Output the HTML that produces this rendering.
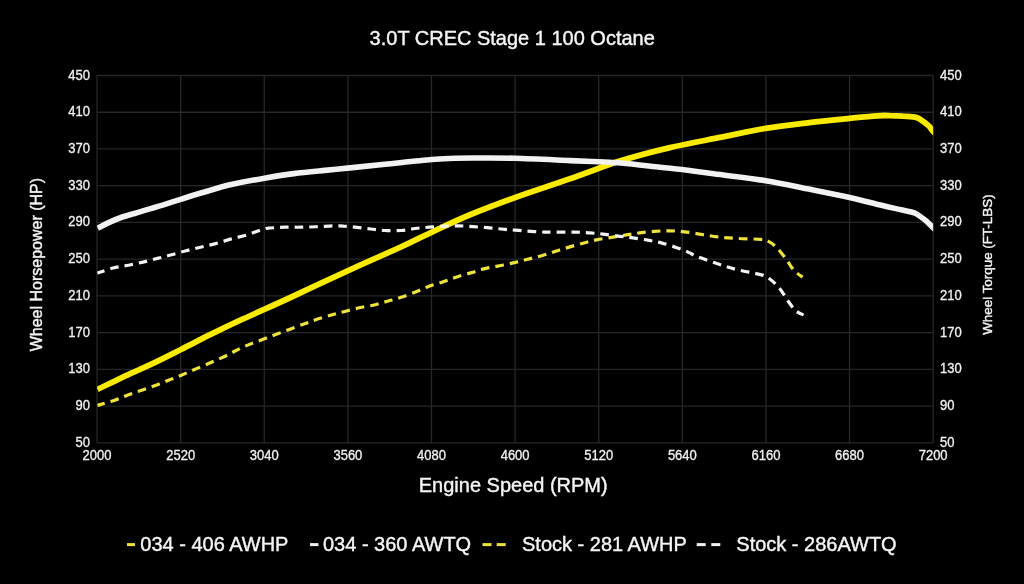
<!DOCTYPE html>
<html><head><meta charset="utf-8"><style>
html,body{margin:0;padding:0;background:#000;}
body{width:1024px;height:584px;overflow:hidden;}
svg{display:block;font-family:"Liberation Sans",sans-serif;will-change:transform;}
</style></head><body>
<svg width="1024" height="584" viewBox="0 0 1024 584">
<rect width="1024" height="584" fill="#000"/>
<g stroke="#272727" stroke-width="1.3" fill="none">
<line x1="97.05" y1="75.5" x2="97.05" y2="442.8"/><line x1="97.05" y1="75.50" x2="933.15" y2="75.50"/><line x1="180.66" y1="75.5" x2="180.66" y2="442.8"/><line x1="97.05" y1="112.23" x2="933.15" y2="112.23"/><line x1="264.27" y1="75.5" x2="264.27" y2="442.8"/><line x1="97.05" y1="148.96" x2="933.15" y2="148.96"/><line x1="347.88" y1="75.5" x2="347.88" y2="442.8"/><line x1="97.05" y1="185.69" x2="933.15" y2="185.69"/><line x1="431.49" y1="75.5" x2="431.49" y2="442.8"/><line x1="97.05" y1="222.42" x2="933.15" y2="222.42"/><line x1="515.10" y1="75.5" x2="515.10" y2="442.8"/><line x1="97.05" y1="259.15" x2="933.15" y2="259.15"/><line x1="598.71" y1="75.5" x2="598.71" y2="442.8"/><line x1="97.05" y1="295.88" x2="933.15" y2="295.88"/><line x1="682.32" y1="75.5" x2="682.32" y2="442.8"/><line x1="97.05" y1="332.61" x2="933.15" y2="332.61"/><line x1="765.93" y1="75.5" x2="765.93" y2="442.8"/><line x1="97.05" y1="369.34" x2="933.15" y2="369.34"/><line x1="849.54" y1="75.5" x2="849.54" y2="442.8"/><line x1="97.05" y1="406.07" x2="933.15" y2="406.07"/><line x1="933.15" y1="75.5" x2="933.15" y2="442.8"/><line x1="97.05" y1="442.80" x2="933.15" y2="442.80"/>
</g>
<g fill="#f0f0f0" stroke="#f0f0f0" stroke-width="0.3" font-size="13">
<text transform="translate(90,79.50) scale(1,1.06)" text-anchor="end">450</text><text transform="translate(940,79.50) scale(1,1.06)" text-anchor="start">450</text><text transform="translate(90,116.23) scale(1,1.06)" text-anchor="end">410</text><text transform="translate(940,116.23) scale(1,1.06)" text-anchor="start">410</text><text transform="translate(90,152.96) scale(1,1.06)" text-anchor="end">370</text><text transform="translate(940,152.96) scale(1,1.06)" text-anchor="start">370</text><text transform="translate(90,189.69) scale(1,1.06)" text-anchor="end">330</text><text transform="translate(940,189.69) scale(1,1.06)" text-anchor="start">330</text><text transform="translate(90,226.42) scale(1,1.06)" text-anchor="end">290</text><text transform="translate(940,226.42) scale(1,1.06)" text-anchor="start">290</text><text transform="translate(90,263.15) scale(1,1.06)" text-anchor="end">250</text><text transform="translate(940,263.15) scale(1,1.06)" text-anchor="start">250</text><text transform="translate(90,299.88) scale(1,1.06)" text-anchor="end">210</text><text transform="translate(940,299.88) scale(1,1.06)" text-anchor="start">210</text><text transform="translate(90,336.61) scale(1,1.06)" text-anchor="end">170</text><text transform="translate(940,336.61) scale(1,1.06)" text-anchor="start">170</text><text transform="translate(90,373.34) scale(1,1.06)" text-anchor="end">130</text><text transform="translate(940,373.34) scale(1,1.06)" text-anchor="start">130</text><text transform="translate(90,410.07) scale(1,1.06)" text-anchor="end">90</text><text transform="translate(940,410.07) scale(1,1.06)" text-anchor="start">90</text><text transform="translate(90,446.80) scale(1,1.06)" text-anchor="end">50</text><text transform="translate(940,446.80) scale(1,1.06)" text-anchor="start">50</text>
<text transform="translate(97.05,459.6) scale(1,1.06)" text-anchor="middle">2000</text><text transform="translate(180.66,459.6) scale(1,1.06)" text-anchor="middle">2520</text><text transform="translate(264.27,459.6) scale(1,1.06)" text-anchor="middle">3040</text><text transform="translate(347.88,459.6) scale(1,1.06)" text-anchor="middle">3560</text><text transform="translate(431.49,459.6) scale(1,1.06)" text-anchor="middle">4080</text><text transform="translate(515.10,459.6) scale(1,1.06)" text-anchor="middle">4600</text><text transform="translate(598.71,459.6) scale(1,1.06)" text-anchor="middle">5120</text><text transform="translate(682.32,459.6) scale(1,1.06)" text-anchor="middle">5640</text><text transform="translate(765.93,459.6) scale(1,1.06)" text-anchor="middle">6160</text><text transform="translate(849.54,459.6) scale(1,1.06)" text-anchor="middle">6680</text><text transform="translate(933.15,459.6) scale(1,1.06)" text-anchor="middle">7200</text>
</g>
<g fill="#f5f5f5" stroke="#f5f5f5" stroke-width="0.4">
<text transform="translate(512.2,45) scale(1,1.035)" font-size="20" text-anchor="middle">3.0T CREC Stage 1 100 Octane</text>
<text transform="translate(513.2,492.3) scale(1,1.035)" font-size="20" text-anchor="middle">Engine Speed (RPM)</text>
<text transform="translate(41.6,264.6) rotate(-90) scale(1,1.0)" font-size="16" text-anchor="middle">Wheel Horsepower (HP)</text>
<text transform="translate(992.4,264.6) rotate(-90) scale(1,1.0)" font-size="13.4" text-anchor="middle">Wheel Torque (FT-LBS)</text>
</g>
<defs><clipPath id="pc"><rect x="97.05" y="65.5" width="836.1" height="377.3"/></clipPath></defs>
<g clip-path="url(#pc)" fill="none" stroke-linejoin="round">
<path d="M97.5,389.4 C101.7,387.4 113.7,381.4 122.4,377.3 C131.1,373.2 140.0,369.5 149.8,364.9 C159.6,360.3 170.8,354.6 181.0,349.5 C191.2,344.4 201.0,339.2 211.2,334.2 C221.5,329.1 229.5,325.2 242.5,319.2 C255.5,313.2 271.9,306.1 289.4,298.0 C306.9,289.9 329.3,279.2 347.7,270.8 C366.1,262.4 386.1,253.8 400.0,247.4 C413.9,241.0 419.7,237.7 431.4,232.3 C443.1,226.9 456.0,220.6 470.0,214.8 C484.0,209.0 498.5,203.5 515.2,197.5 C531.9,191.5 552.3,185.0 570.0,178.8 C587.7,172.7 604.7,165.8 621.4,160.6 C638.1,155.4 653.3,151.5 670.0,147.6 C686.7,143.7 705.5,140.4 721.4,137.2 C737.3,134.0 750.6,130.9 765.6,128.4 C780.6,125.9 797.1,124.1 811.1,122.4 C825.1,120.7 838.7,119.4 849.7,118.3 C860.7,117.2 870.3,116.2 877.0,115.8 C883.7,115.3 885.7,115.5 890.0,115.6 C894.3,115.6 898.7,115.8 902.8,116.1 C906.9,116.3 911.9,116.6 914.8,117.1 C917.7,117.6 917.7,117.8 920.0,119.2 C922.3,120.6 926.3,123.7 928.5,125.7 C930.7,127.7 931.1,129.2 933.0,131.3 C934.9,133.4 938.8,136.9 940.0,138.0" stroke="#f8ea00" stroke-width="5.8"/>
<path d="M97.7,228.2 C99.5,227.3 104.6,224.5 108.7,222.6 C112.8,220.7 117.8,218.6 122.4,217.0 C127.0,215.4 131.5,214.3 136.1,213.0 C140.7,211.7 145.2,210.3 149.8,208.9 C154.4,207.5 158.4,206.4 163.5,204.8 C168.6,203.2 174.5,201.2 180.6,199.3 C186.7,197.4 191.6,195.8 200.0,193.3 C208.4,190.9 220.5,187.1 231.2,184.6 C242.0,182.1 254.1,180.0 264.5,178.2 C274.9,176.4 283.7,174.9 293.8,173.6 C303.8,172.3 315.6,171.3 325.0,170.4 C334.4,169.5 340.0,168.9 350.0,167.9 C360.0,166.9 371.5,165.7 385.1,164.3 C398.7,162.9 420.0,160.5 431.7,159.5 C443.4,158.5 447.0,158.4 455.4,158.2 C463.8,157.9 471.8,158.0 481.8,158.0 C491.8,158.0 500.5,157.9 515.2,158.3 C529.9,158.7 556.1,160.0 570.0,160.6 C583.9,161.2 589.7,161.3 598.3,161.7 C606.9,162.1 611.1,162.1 621.4,163.0 C631.7,163.9 649.9,166.1 660.0,167.2 C670.1,168.3 673.2,168.4 682.2,169.5 C691.2,170.6 699.8,171.9 713.7,173.8 C727.6,175.7 749.8,178.1 765.6,180.7 C781.5,183.2 794.8,186.3 808.8,189.1 C822.8,191.9 837.6,194.8 849.6,197.4 C861.6,200.1 871.9,202.9 880.5,205.0 C889.1,207.1 895.5,208.5 901.1,209.8 C906.8,211.1 911.0,211.6 914.4,212.9 C917.8,214.2 919.5,216.1 921.6,217.5 C923.7,218.9 924.8,219.6 926.7,221.3 C928.6,223.0 930.9,225.6 933.1,227.7 C935.3,229.8 938.9,232.9 940.0,234.0" stroke="#f2f2f2" stroke-width="5.6"/>
<path d="M97.5,405.4 C100.3,404.6 109.1,402.1 114.2,400.4 C119.3,398.7 123.3,396.7 127.9,395.0 C132.5,393.3 137.0,391.9 141.6,390.3 C146.2,388.7 150.7,387.2 155.3,385.5 C159.9,383.8 164.7,381.7 169.0,380.0 C173.3,378.3 172.4,378.9 181.3,375.2 C190.2,371.4 212.0,362.1 222.2,357.5 C232.4,352.9 235.5,350.4 242.5,347.3 C249.5,344.2 256.6,341.7 264.4,338.8 C272.2,335.8 281.3,332.4 289.4,329.4 C297.5,326.4 305.5,323.3 312.8,320.8 C320.1,318.3 327.6,316.1 333.1,314.5 C338.6,312.9 341.1,312.4 345.6,311.2 C350.2,310.0 355.4,308.6 360.4,307.5 C365.3,306.4 370.7,305.8 375.3,304.7 C379.9,303.6 383.9,302.2 388.2,301.0 C392.5,299.8 396.5,298.9 401.2,297.3 C405.9,295.8 411.5,293.6 416.1,291.7 C420.8,289.8 424.5,287.9 429.1,286.2 C433.7,284.5 439.3,283.1 443.9,281.5 C448.5,279.9 452.3,278.4 456.9,276.9 C461.5,275.4 467.1,274.0 471.7,272.6 C476.3,271.2 480.0,269.7 484.7,268.6 C489.4,267.5 494.7,266.8 499.6,265.8 C504.6,264.8 509.8,263.7 514.4,262.6 C519.0,261.5 522.9,260.5 527.4,259.3 C531.9,258.1 537.0,257.0 541.6,255.7 C546.2,254.4 550.5,252.9 554.9,251.5 C559.3,250.1 563.5,248.8 568.2,247.4 C572.9,246.0 578.4,244.4 583.1,243.2 C587.8,241.9 591.7,240.9 596.4,239.9 C601.1,238.9 606.4,238.2 611.4,237.4 C616.4,236.6 621.6,235.7 626.3,234.9 C631.0,234.2 634.9,233.5 639.6,232.9 C644.3,232.3 649.6,231.7 654.6,231.3 C659.6,231.0 664.5,230.7 669.5,230.8 C674.5,230.9 679.1,231.2 684.5,231.8 C689.9,232.4 696.5,233.7 702.0,234.5 C707.5,235.3 711.8,236.2 717.7,236.9 C723.6,237.6 730.1,238.0 737.2,238.4 C744.4,238.8 755.4,238.9 760.6,239.4 C765.8,239.9 765.8,240.1 768.4,241.4 C771.0,242.7 773.4,244.3 776.3,247.2 C779.2,250.1 783.4,255.5 786.0,258.9 C788.6,262.3 789.9,265.2 791.9,267.7 C793.9,270.1 795.9,272.0 797.7,273.6 C799.5,275.2 801.8,276.5 802.6,277.1" stroke="#eee33a" stroke-width="3.2" stroke-dasharray="8.6 6" stroke-dashoffset="1.1"/>
<path d="M97.4,273.2 C100.0,272.3 107.8,269.3 113.0,268.0 C118.2,266.7 123.6,266.2 128.6,265.2 C133.6,264.2 138.2,263.2 143.0,262.1 C147.8,261.0 152.6,259.6 157.4,258.4 C162.2,257.2 166.9,256.1 171.7,254.8 C176.5,253.5 181.3,252.0 186.1,250.7 C190.9,249.4 195.6,248.4 200.5,247.2 C205.4,246.0 210.5,245.0 215.6,243.6 C220.7,242.2 226.0,240.3 231.2,238.9 C236.5,237.5 242.5,236.3 246.9,235.0 C251.3,233.7 254.9,232.1 257.8,231.1 C260.7,230.1 262.4,229.3 264.5,228.8 C266.6,228.2 266.7,228.3 270.3,228.0 C273.9,227.7 280.7,227.3 285.9,227.2 C291.1,227.1 296.4,227.3 301.6,227.2 C306.8,227.1 312.0,226.9 317.2,226.7 C322.4,226.5 328.4,226.0 332.8,225.9 C337.2,225.8 339.7,225.8 343.8,226.1 C347.8,226.3 352.4,226.9 357.0,227.4 C361.6,227.9 366.4,228.5 371.1,229.0 C375.8,229.5 380.1,230.2 385.1,230.5 C390.1,230.8 396.0,230.8 401.0,230.5 C406.0,230.2 410.3,229.1 415.0,228.5 C419.7,227.9 424.1,227.6 429.1,227.2 C434.1,226.8 439.9,226.4 444.9,226.2 C449.9,226.0 454.3,225.7 459.0,225.8 C463.7,225.9 468.3,226.4 473.0,226.7 C477.7,227.0 482.4,227.2 487.1,227.6 C491.8,228.0 496.4,228.6 501.1,229.0 C505.8,229.4 507.9,229.7 515.2,230.2 C522.5,230.7 535.0,231.8 544.9,232.1 C554.8,232.4 567.3,232.0 574.8,232.1 C582.3,232.2 585.1,232.6 589.8,232.9 C594.5,233.2 598.1,233.5 603.1,234.1 C608.1,234.7 614.7,235.7 619.7,236.3 C624.7,236.9 628.3,237.2 633.0,237.9 C637.7,238.6 643.2,239.4 647.9,240.2 C652.6,241.0 656.5,241.7 661.2,242.9 C665.9,244.1 671.5,245.8 676.1,247.4 C680.7,249.0 684.9,250.8 688.6,252.4 C692.3,254.0 693.2,255.1 698.1,257.0 C703.0,258.9 711.2,261.7 717.7,263.8 C724.2,265.9 730.1,267.9 737.2,269.7 C744.4,271.5 755.1,273.0 760.6,274.6 C766.1,276.2 767.1,277.1 770.4,279.5 C773.7,281.9 777.3,285.6 780.2,289.2 C783.1,292.8 785.4,297.4 788.0,301.0 C790.6,304.6 793.2,308.4 795.8,310.7 C798.4,313.0 802.3,314.3 803.6,315.0" stroke="#f2f2f2" stroke-width="3.2" stroke-dasharray="8.6 6" stroke-dashoffset="1.1"/>
</g>
<g font-size="20" fill="#f5f5f5" stroke="#f5f5f5" stroke-width="0.4">
<rect x="127" y="543.1" width="8" height="3" fill="#eee23a" stroke="none"/>
<text transform="translate(140.3,550.8) scale(1,1.035)">034 - 406 AWHP</text>
<rect x="310" y="543.1" width="8.5" height="3" fill="#f0f0f0" stroke="none"/>
<text transform="translate(323,550.8) scale(1,1.035)">034 - 360 AWTQ</text>
<rect x="482.5" y="543.1" width="9" height="3" fill="#eee23a" stroke="none"/>
<rect x="496.7" y="543.1" width="9" height="3" fill="#eee23a" stroke="none"/>
<text transform="translate(522,550.8) scale(1,1.035)">Stock - 281 AWHP</text>
<rect x="696.7" y="543.1" width="9" height="3" fill="#f0f0f0" stroke="none"/>
<rect x="711.3" y="543.1" width="9" height="3" fill="#f0f0f0" stroke="none"/>
<text transform="translate(736.3,550.8) scale(1,1.035)">Stock - 286AWTQ</text>
</g>
</svg>
</body></html>
